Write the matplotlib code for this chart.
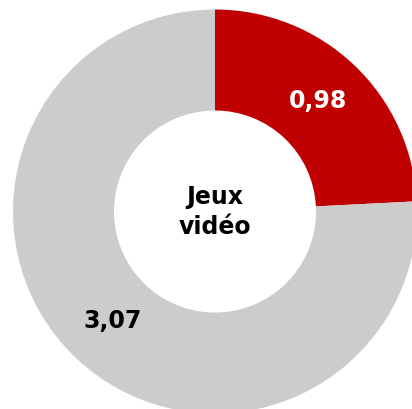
import matplotlib
matplotlib.use("Agg")
import matplotlib.pyplot as plt

categories = ["Jeux vidéo", "Autres"]
values = [0.98, 3.07]
labels = ["0,98", "3,07"]
colors = ["#C00000", "#CCCCCC"]
label_colors = ["white", "black"]
center_text = "Jeux\nvidéo"

W, H = 412, 409
fig = plt.figure(figsize=(W / 100, H / 100), dpi=100)
ax = fig.add_axes([0, 0, 1, 1])
ax.set_xlim(0, W)
ax.set_ylim(0, H)
ax.set_aspect("equal")
ax.axis("off")

cx, cy, R = 215, H - 211.5, 202
wedges, _ = ax.pie(values, colors=colors, startangle=90, counterclock=False,
                   radius=R, center=(cx, cy), frame=True,
                   wedgeprops=dict(width=R * 0.5, linewidth=0))
ax.set_xlim(0, W)
ax.set_ylim(0, H)
ax.axis("off")

label_pos = [(318, H - 101.5), (112.5, H - 320.5)]
for (x, y), t, c in zip(label_pos, labels, label_colors):
    ax.text(x, y, t, ha="center", va="center", fontsize=17, fontweight="bold",
            color=c, family="DejaVu Sans")

ax.text(cx, H - 212, center_text, ha="center", va="center", fontsize=17,
        fontweight="bold", color="black", family="DejaVu Sans", linespacing=1.3)

fig.savefig("out.png", dpi=100)
